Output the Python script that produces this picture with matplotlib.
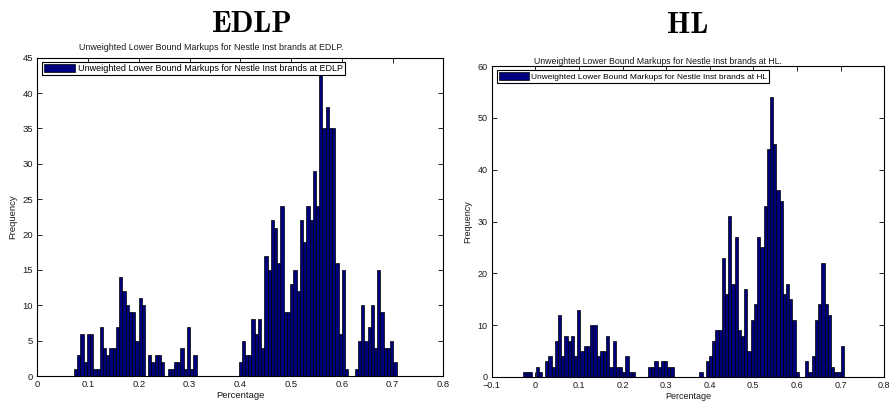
import matplotlib
matplotlib.use('Agg')
import matplotlib.pyplot as plt
import numpy as np

# ---------------- data ----------------
edlp_counts = [1, 3, 6, 2, 6, 6, 1, 1, 7, 4, 3, 4, 4, 7, 14, 12, 10, 9, 9, 5,
               11, 10, 0, 3, 2, 3, 3, 2, 0, 1, 1, 2, 2, 4, 1, 7, 1, 3,
               0, 0, 0, 0, 0, 0, 0, 0, 0, 0, 0, 0, 0,
               2, 5, 3, 3, 8, 6, 8, 4, 17, 15, 22, 21, 16, 24, 9, 9, 13, 15, 12,
               22, 19, 24, 22, 29, 24, 43, 35, 38, 35, 35, 16, 6, 15, 1,
               0, 0,
               1, 5, 10, 5, 7, 10, 4, 15, 9, 4, 4, 5, 2]
edlp_range = (0.0723, 0.708)

hl_counts = [1, 1, 1, 0, 2, 1, 0, 3, 4, 2, 7, 12, 4, 8, 7, 8, 4, 13, 5, 6,
             6, 10, 10, 4, 5, 5, 8, 2, 7, 2, 2, 1, 4, 1, 1,
             0, 0, 0, 0,
             2, 2, 3, 2, 3, 3, 2, 2,
             0, 0, 0, 0, 0, 0, 0, 0,
             1, 0, 3, 4, 7, 9, 9, 23, 16, 31, 18, 27, 9, 8, 17, 5, 11, 14, 27, 25,
             33, 44, 54, 45, 36, 34, 16, 18, 15, 11, 1, 0, 0, 3, 1, 4, 11, 14, 22, 14,
             12, 2, 1, 1, 6]
hl_range = (-0.029, 0.7075)

edlp_xticks = [0, 0.1, 0.2, 0.3, 0.4, 0.5, 0.6, 0.7, 0.8]
edlp_xticklabels = ['0', '0.1', '0.2', '0.3', '0.4', '0.5', '0.6', '0.7', '0.8']
edlp_yticks = [0, 5, 10, 15, 20, 25, 30, 35, 40, 45]

hl_xticks = [-0.1, 0, 0.1, 0.2, 0.3, 0.4, 0.5, 0.6, 0.7, 0.8]
hl_xticklabels = ['\u22120.1', '0', '0.1', '0.2', '0.3', '0.4', '0.5', '0.6', '0.7', '0.8']
hl_yticks = [0, 10, 20, 30, 40, 50, 60]

edlp_header = 'EDLP'
hl_header = 'HL'
edlp_title = 'Unweighted Lower Bound Markups for Nestle Inst brands at EDLP.'
hl_title = 'Unweighted Lower Bound Markups for Nestle Inst brands at HL.'
edlp_legend = 'Unweighted Lower Bound Markups for Nestle Inst brands at EDLP'
hl_legend = 'Unweighted Lower Bound Markups for Nestle Inst brands at HL'
x_label = 'Percentage'
y_label = 'Frequency'

# ---------------- style ----------------
plt.rcParams['font.family'] = ['Liberation Sans', 'DejaVu Sans']
BAR_FACE = '#00007f'
TXT = '#1a1a1a'

fig = plt.figure(figsize=(8.9, 4.08), dpi=100)
ax1 = fig.add_axes([0.0419, 0.0784, 0.4562, 0.780])
ax2 = fig.add_axes([0.5525, 0.0760, 0.4409, 0.762])


def draw(ax, counts, rng, xticks, xticklabels, yticks, xlim, ylim, leg_text,
         leg_anchor, fs, leg_fs):
    edges = np.linspace(rng[0], rng[1], len(counts) + 1)
    ax.bar(edges[:-1], counts, width=np.diff(edges), align='edge',
           color=BAR_FACE, edgecolor='black', linewidth=0.5, label=leg_text, zorder=2)
    ax.set_xlim(*xlim)
    ax.set_ylim(*ylim)
    ax.set_xticks(xticks)
    ax.set_xticklabels(xticklabels)
    ax.set_yticks(yticks)
    ax.tick_params(direction='in', length=3.5, width=0.6, top=True, right=True,
                   labelsize=fs, pad=3, colors='black', labelcolor=TXT)
    for s in ax.spines.values():
        s.set_linewidth(0.8)
        s.set_color('black')
    ax.set_xlabel(x_label, fontsize=fs, color=TXT, labelpad=1)
    ax.set_ylabel(y_label, fontsize=fs, color=TXT, labelpad=4)
    leg = ax.legend(loc='upper left', bbox_to_anchor=leg_anchor, fontsize=leg_fs,
                    frameon=True, fancybox=False, edgecolor='black', framealpha=1,
                    borderaxespad=0, handlelength=3.5, handleheight=1.0,
                    handletextpad=0.3, borderpad=0.25)
    leg.get_frame().set_linewidth(0.8)
    leg.set_zorder(5)


draw(ax1, edlp_counts, edlp_range, edlp_xticks, edlp_xticklabels, edlp_yticks,
     (0, 0.8), (0, 45), edlp_legend, (0.011, 0.988), 6.8, 6.45)
draw(ax2, hl_counts, hl_range, hl_xticks, hl_xticklabels, hl_yticks,
     (-0.1, 0.8), (0, 60), hl_legend, (0.0135, 0.987), 6.5, 6.05)

fig.text(252.5 / 890, 1 - 32 / 408, edlp_header, family='cmb10', fontsize=21.5,
         ha='center', va='baseline', color='black')
fig.text(688 / 890, 1 - 33 / 408, hl_header, family='cmb10', fontsize=21.5,
         ha='center', va='baseline', color='black')
fig.text(211 / 890, 1 - 50 / 408, edlp_title, fontsize=6.4, ha='center', va='baseline', color=TXT)
fig.text(657.5 / 890, 1 - 64 / 408, hl_title, fontsize=6.3, ha='center', va='baseline', color=TXT)

fig.savefig('out.png', dpi=100)
